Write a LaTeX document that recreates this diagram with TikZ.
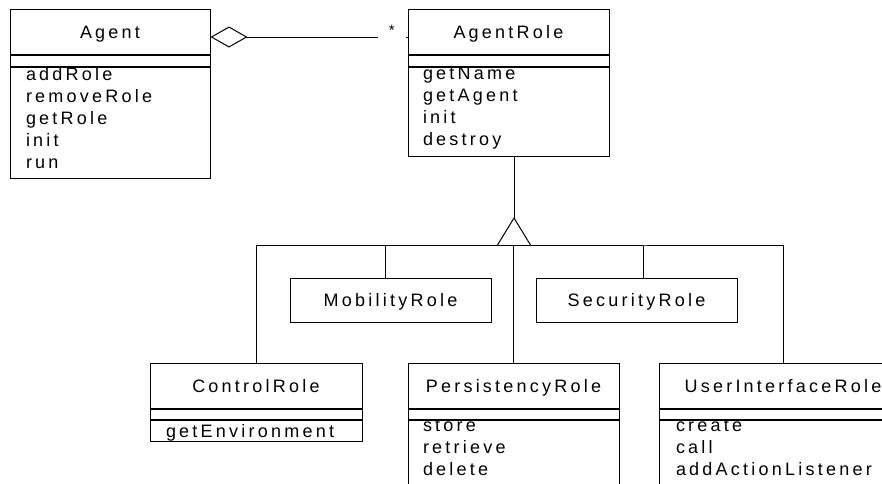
\documentclass[tikz,border=0pt]{standalone}
\usepackage{fontspec}
\setmainfont{Liberation Sans}[LetterSpace=18]
\usetikzlibrary{arrows.meta}

\tikzset{
  classtitle/.style={draw, inner sep=0pt, minimum height=45pt, text height=13pt, text depth=0pt},
  compart/.style={draw, anchor=north, inner sep=0pt},
  oplist/.style={anchor=north west, align=left, inner sep=0pt, execute at begin node=\rule{0pt}{17pt}},
}

\begin{document}
\begin{tikzpicture}[x=1pt, y=-1pt, line width=1pt, font=\fontsize{18}{22}\selectfont]
    \useasboundingbox (0,0) rectangle (882,483);
    \clip (0,0) rectangle (882,483);

    % Agent
    \node[classtitle, minimum width=200pt] (agent) at (110,31.5) {Agent};
    \node[compart, minimum width=200pt, minimum height=11pt] (agent-attr) at (agent.south) {};
    \node[compart, minimum width=200pt, minimum height=111pt] (agent-ops) at (agent-attr.south) {};
    \node[oplist] (agent-list) at ([xshift=16pt]agent-ops.north west)
        {addRole\\removeRole\\getRole\\init\\run};

    % AgentRole
    \node[classtitle, minimum width=201pt] (role) at (508.5,31.5) {AgentRole};
    \node[compart, minimum width=201pt, minimum height=11pt] (role-attr) at (role.south) {};
    \node[compart, minimum width=201pt, minimum height=89pt] (role-ops) at (role-attr.south) {};
    \node[oplist] (role-list) at ([xshift=15pt]role-ops.north west)
        {getName\\getAgent\\init\\destroy};

    \draw[{Diamond[open,length=37pt,width=21pt]}-] ([yshift=-5.5pt]agent.east) --
        node[pos=0.92, fill=white, inner sep=0pt, minimum width=28pt, minimum height=4pt] (gap) {}
        node[pos=0.92, yshift=7pt, font=\fontsize{15}{16}\selectfont] (mult) {*}
        ([yshift=-5.5pt]role.west);

    % subroles
    \node[classtitle, minimum width=201pt, minimum height=44pt] (mobility) at (390.5,300) {MobilityRole};
    \node[classtitle, minimum width=201pt, minimum height=44pt] (security) at (636.5,300) {SecurityRole};

    \node[classtitle, minimum width=212pt] (control) at (256,385.5) {ControlRole};
    \node[compart, minimum width=212pt, minimum height=10pt] (control-attr) at (control.south) {};
    \node[compart, minimum width=212pt, minimum height=21pt] (control-ops) at (control-attr.south) {};
    \node[oplist] (control-list) at ([xshift=16pt]control-ops.north west) {getEnvironment};

    \node[classtitle, minimum width=211pt] (persist) at (513.5,385.5) {PersistencyRole};
    \node[compart, minimum width=211pt, minimum height=10pt] (persist-attr) at (persist.south) {};
    \node[compart, minimum width=211pt, minimum height=90pt] (persist-ops) at (persist-attr.south) {};
    \node[oplist] (persist-list) at ([xshift=15pt]persist-ops.north west)
        {store\\retrieve\\delete};

    \node[classtitle, minimum width=248pt] (ui) at (783,385.5) {UserInterfaceRole};
    \node[compart, minimum width=248pt, minimum height=10pt] (ui-attr) at (ui.south) {};
    \node[compart, minimum width=248pt, minimum height=90pt] (ui-ops) at (ui-attr.south) {};
    \node[oplist] (ui-list) at ([xshift=17pt]ui-ops.north west)
        {create\\call\\addActionListener};

    % generalisation
    \coordinate (hub) at (514,245);
    \coordinate (tip) at (514,218);
    \draw (role-ops.south -| tip) -- (tip);
    \draw ([xshift=-16.5pt]hub) -- (tip) -- ([xshift=16.5pt]hub);
    \draw (control.north) |- (hub) -| (ui.north);
    \draw ([xshift=-5.5pt]mobility.north) |- (hub);
    \draw (persist.north) |- (hub);
    \draw ([xshift=6.5pt]security.north) |- (hub);
\end{tikzpicture}
\end{document}
